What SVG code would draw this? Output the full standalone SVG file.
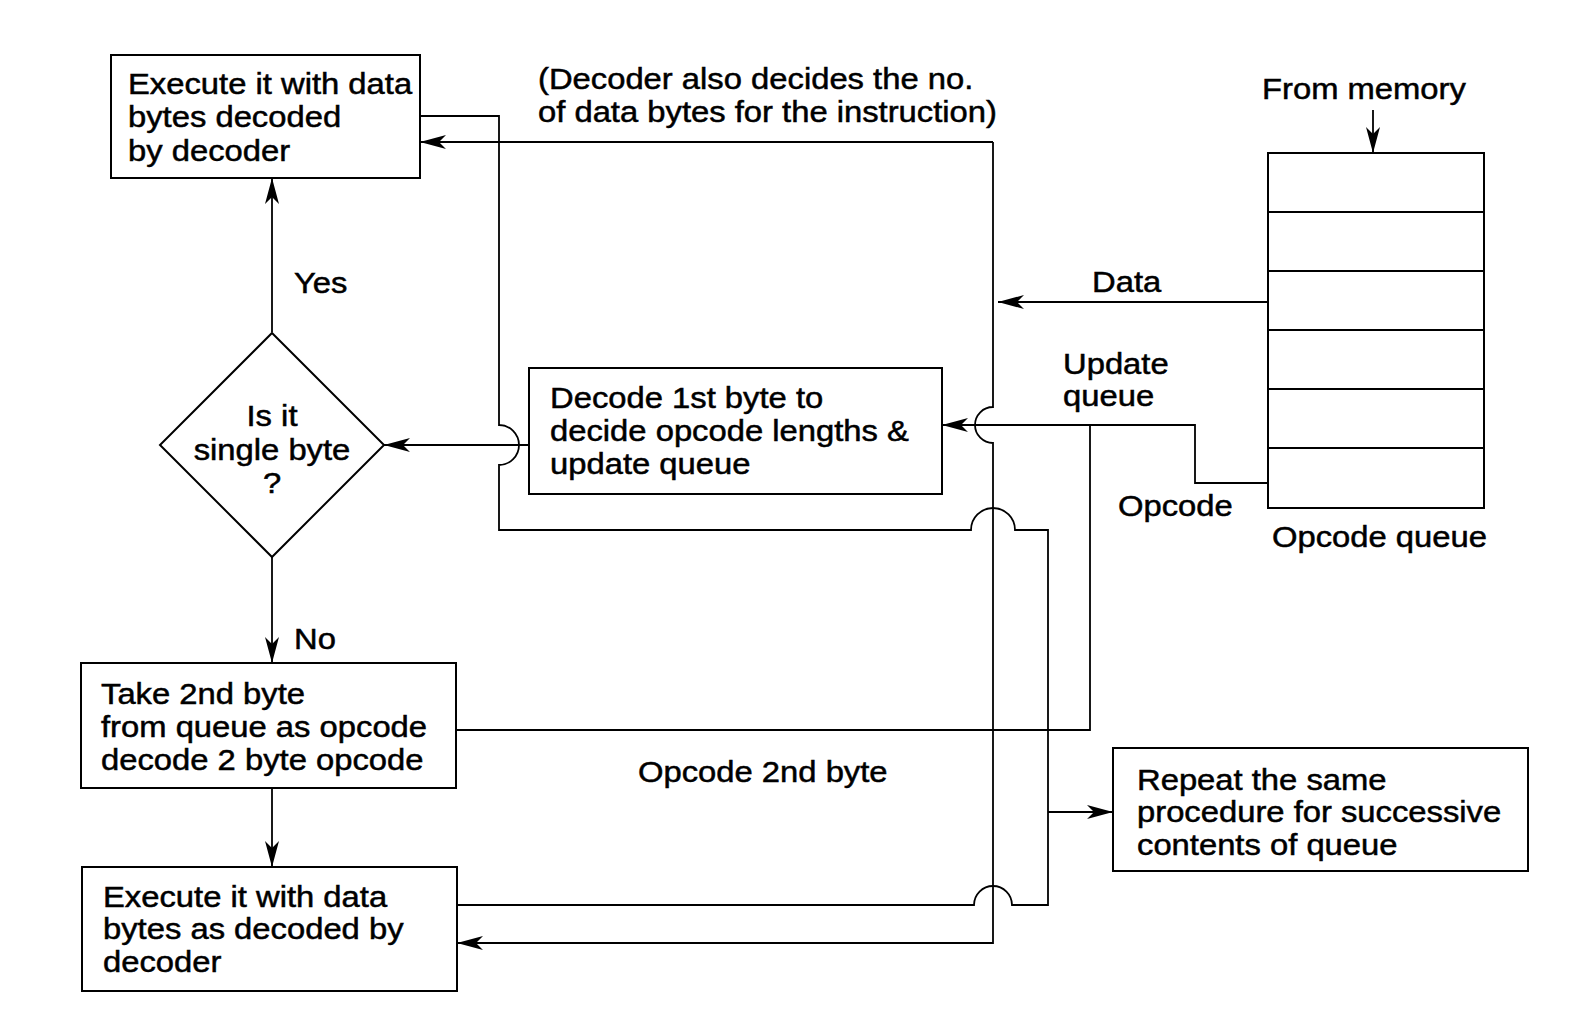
<svg xmlns="http://www.w3.org/2000/svg" width="1592" height="1018" viewBox="0 0 1592 1018">
<defs>
<marker id="arr" markerUnits="userSpaceOnUse" markerWidth="28" markerHeight="18" refX="26" refY="8" orient="auto">
<path d="M0,1 L26,8 L0,15 L7,8 Z" fill="#000"/>
</marker>
<style>
.box{fill:#fff;stroke:#000;stroke-width:2}
.ln{fill:none;stroke:#000;stroke-width:1.8}
.ar{marker-end:url(#arr)}
text{font-family:"Liberation Sans",Arial,Helvetica,sans-serif;font-size:29px;fill:#000;stroke:#000;stroke-width:0.5}
</style>
</defs>
<rect width="1592" height="1018" fill="#fff"/>

<g id="connectors">
<path class="ln ar" d="M272,332 V178"/>
<path class="ln ar" d="M272,556 V663"/>
<path class="ln ar" d="M272,788 V867"/>
<path class="ln ar" d="M529,445 H384"/>
<path class="ln" d="M420,116 H499 V425 A20,20 0 0 1 499,465 V530 H971 A22,22 0 0 1 1015,530 H1048 V905 H1012 A19,19 0 0 0 974,905 H457"/>
<path class="ln ar" d="M1048,812 H1113"/>
<path class="ln ar" d="M993,142 H420"/>
<path class="ln ar" d="M993,142 V407 A18,18 0 0 0 993,443 V943 H457"/>
<path class="ln ar" d="M1268,302 H998"/>
<path class="ln ar" d="M1268,483 H1195 V425 H942"/>
<path class="ln" d="M1090,425 V730 H456"/>
<path class="ln ar" d="M1373,110 V153"/>
</g>

<g id="exec-top">
<rect class="box" x="111" y="55" width="309" height="123"/>
<text transform="translate(128,94) scale(1.13,1)"><tspan x="0" y="0">Execute it with data</tspan><tspan x="0" y="33.5">bytes decoded</tspan><tspan x="0" y="67">by decoder</tspan></text>
</g>

<g id="decision">
<polygon class="box" points="272,333 384,445 272,557 160,445"/>
<text text-anchor="middle" transform="translate(272,426) scale(1.13,1)"><tspan x="0" y="0">Is it</tspan><tspan x="0" y="34">single byte</tspan><tspan x="0" y="67">?</tspan></text>
</g>

<g id="decode">
<rect class="box" x="529" y="368" width="413" height="126"/>
<text transform="translate(550,408) scale(1.13,1)"><tspan x="0" y="0">Decode 1st byte to</tspan><tspan x="0" y="33">decide opcode lengths &amp;</tspan><tspan x="0" y="66">update queue</tspan></text>
</g>

<g id="take-2nd">
<rect class="box" x="81" y="663" width="375" height="125"/>
<text transform="translate(101,704) scale(1.13,1)"><tspan x="0" y="0">Take 2nd byte</tspan><tspan x="0" y="33">from queue as opcode</tspan><tspan x="0" y="66">decode 2 byte opcode</tspan></text>
</g>

<g id="exec-bottom">
<rect class="box" x="82" y="867" width="375" height="124"/>
<text transform="translate(103,907) scale(1.13,1)"><tspan x="0" y="0">Execute it with data</tspan><tspan x="0" y="32.5">bytes as decoded by</tspan><tspan x="0" y="65">decoder</tspan></text>
</g>

<g id="repeat">
<rect class="box" x="1113" y="748" width="415" height="123"/>
<text transform="translate(1137,790) scale(1.13,1)"><tspan x="0" y="0">Repeat the same</tspan><tspan x="0" y="32.5">procedure for successive</tspan><tspan x="0" y="65">contents of queue</tspan></text>
</g>

<g id="opcode-queue">
<rect class="box" x="1268" y="153" width="216" height="355"/>
<path class="ln" d="M1268,212 H1484 M1268,271 H1484 M1268,330 H1484 M1268,389 H1484 M1268,448 H1484" style="stroke-width:2"/>
<text transform="translate(1272,547) scale(1.13,1)">Opcode queue</text>
<text transform="translate(1262,99) scale(1.13,1)">From memory</text>
</g>

<g id="labels">
<text transform="translate(538,89) scale(1.13,1)"><tspan x="0" y="0">(Decoder also decides the no.</tspan><tspan x="0" y="33">of data bytes for the instruction)</tspan></text>
<text transform="translate(294,293) scale(1.13,1)">Yes</text>
<text transform="translate(294,649) scale(1.13,1)">No</text>
<text transform="translate(1092,292) scale(1.13,1)">Data</text>
<text transform="translate(1063,374) scale(1.13,1)"><tspan x="0" y="0">Update</tspan><tspan x="0" y="32">queue</tspan></text>
<text transform="translate(1118,516) scale(1.13,1)">Opcode</text>
<text transform="translate(638,782) scale(1.13,1)">Opcode 2nd byte</text>
</g>
</svg>
